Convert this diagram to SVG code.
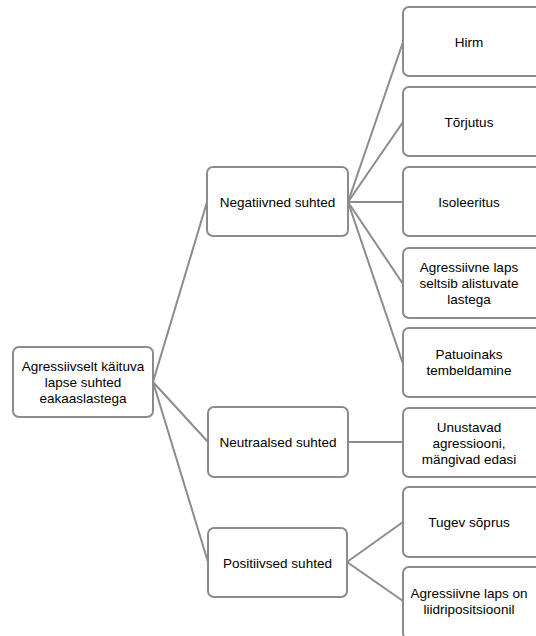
<svg xmlns="http://www.w3.org/2000/svg" width="536" height="636" viewBox="0 0 536 636">
<style>
.box{fill:#fff;stroke:#8c8c8c;stroke-width:2}
.t{font-family:"Liberation Sans",Arial,sans-serif;font-size:13.5px;fill:#000;text-anchor:middle}
.c{stroke:#8c8c8c;stroke-width:2;fill:none}
</style>
<rect width="536" height="636" fill="#fff"/>
<g id="connectors">
<line class="c" x1="153" y1="382" x2="207" y2="202"/>
<line class="c" x1="153" y1="382" x2="208" y2="442"/>
<line class="c" x1="153" y1="382" x2="208" y2="562"/>
<line class="c" x1="348" y1="202" x2="403" y2="42"/>
<line class="c" x1="348" y1="202" x2="403" y2="122"/>
<line class="c" x1="348" y1="202" x2="403" y2="202"/>
<line class="c" x1="348" y1="202" x2="403" y2="284"/>
<line class="c" x1="348" y1="202" x2="403" y2="364"/>
<line class="c" x1="348" y1="442" x2="403" y2="442"/>
<line class="c" x1="347" y1="562" x2="403" y2="522"/>
<line class="c" x1="347" y1="562" x2="403" y2="601"/>
</g>
<g id="root"><rect class="box" x="13" y="347" width="140" height="70" rx="6"/>
<text class="t" x="83" y="371">Agressiivselt käituva</text>
<text class="t" x="83" y="387">lapse suhted</text>
<text class="t" x="83" y="403">eakaaslastega</text></g>
<g id="negatiivned"><rect class="box" x="207" y="167" width="141" height="69" rx="6"/>
<text class="t" x="277.5" y="206.5">Negatiivned suhted</text></g>
<g id="neutraalsed"><rect class="box" x="208" y="407" width="140" height="70" rx="6"/>
<text class="t" x="278" y="447">Neutraalsed suhted</text></g>
<g id="positiivsed"><rect class="box" x="208" y="528" width="139" height="69" rx="6"/>
<text class="t" x="277.5" y="567.5">Positiivsed suhted</text></g>
<g id="hirm"><rect class="box" x="403" y="7" width="140" height="69" rx="6"/>
<text class="t" x="469" y="46.5">Hirm</text></g>
<g id="torjutus"><rect class="box" x="403" y="87" width="140" height="69" rx="6"/>
<text class="t" x="469" y="126.5">Tõrjutus</text></g>
<g id="isoleeritus"><rect class="box" x="403" y="167" width="140" height="69" rx="6"/>
<text class="t" x="469" y="206.5">Isoleeritus</text></g>
<g id="alistuvate"><rect class="box" x="403" y="248" width="140" height="70" rx="6"/>
<text class="t" x="469" y="271.5">Agressiivne laps</text>
<text class="t" x="469" y="287.5">seltsib alistuvate</text>
<text class="t" x="469" y="303.5">lastega</text></g>
<g id="patuoinaks"><rect class="box" x="403" y="328" width="140" height="69" rx="6"/>
<text class="t" x="469" y="359">Patuoinaks</text>
<text class="t" x="469" y="375">tembeldamine</text></g>
<g id="unustavad"><rect class="box" x="403" y="408" width="140" height="69" rx="6"/>
<text class="t" x="469" y="431.5">Unustavad</text>
<text class="t" x="469" y="447.5">agressiooni,</text>
<text class="t" x="469" y="463.5">mängivad edasi</text></g>
<g id="sopruus"><rect class="box" x="403" y="487" width="140" height="70" rx="6"/>
<text class="t" x="469" y="526.5">Tugev sõprus</text></g>
<g id="liidri"><rect class="box" x="403" y="567" width="140" height="72" rx="6"/>
<text class="t" x="469" y="598">Agressiivne laps on</text>
<text class="t" x="469" y="614">liidripositsioonil</text></g>
</svg>
